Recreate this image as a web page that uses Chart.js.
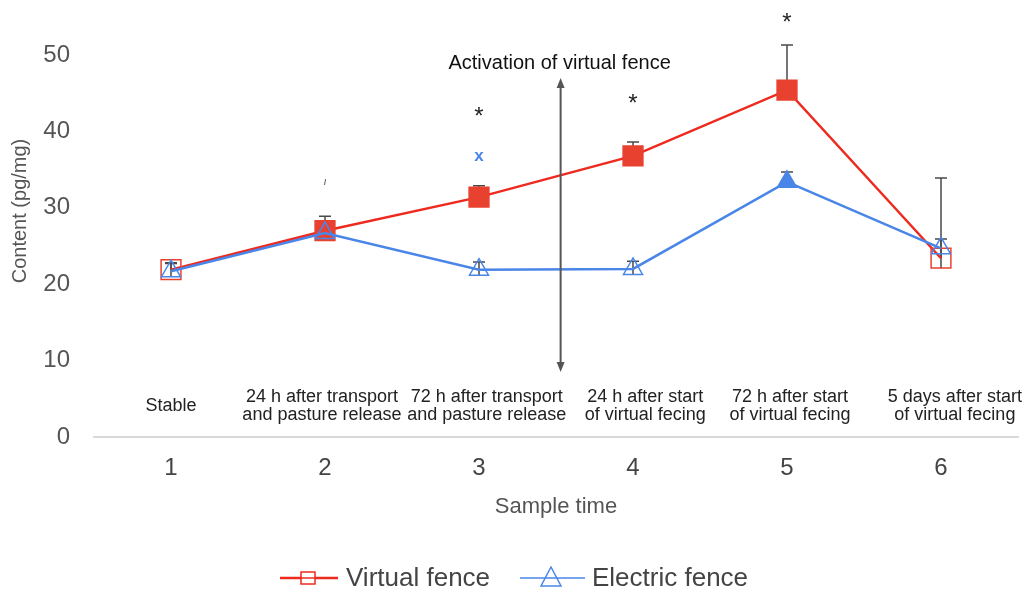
<!DOCTYPE html>
<html>
<head>
<meta charset="utf-8">
<script src="https://cdn.jsdelivr.net/npm/chart.js@4.4.0/dist/chart.umd.min.js"></script>
<style>
  html, body { margin: 0; padding: 0; background: #fff; }
  #wrap { width: 1024px; height: 594px; }
</style>
</head>
<body>
<div id="wrap"><canvas id="myChart"></canvas></div>
<script>
// sample times (x categories) and what each one means
const sampleTimes = ['1', '2', '3', '4', '5', '6'];
const sampleNames = [
    ['Stable'],
    ['24 h after transport', 'and pasture release'],
    ['72 h after transport', 'and pasture release'],
    ['24 h after start', 'of virtual fecing'],
    ['72 h after start', 'of virtual fecing'],
    ['5 days after start', 'of virtual fecing']
];
// where each description sits (index units, placed by hand in the original)
const namePlace = [0, 0.98, 2.05, 3.08, 4.02, 5.09];

// Virtual fence group
const virtualFence = [21.9, 27.0, 31.4, 36.8, 45.4, 23.4];
const virtualHigh = [22.8, 28.9, 32.9, 38.6, 51.3, 33.9];
const virtualLow = [21.9, 27.0, 31.4, 36.8, 45.4, 22.1];
const virtualFilled = [false, true, true, true, true, false];

// Electric fence group
const electricFence = [21.7, 26.7, 21.9, 22.0, 33.4, 24.7];
const electricHigh = [22.7, 27.8, 22.9, 23.0, 34.7, 25.9];
const electricLow = [21.0, 26.0, 21.2, 21.3, 33.4, 23.4];
const electricFilled = [false, false, false, false, true, false];

const yTicks = [0, 10, 20, 30, 40, 50];

// significance marks: [sample index, value, text, colour]
const marks = [
    [1, 33.4, '\u0131', '#555'],
    [2, 41.9, '*', '#222'],
    [2, 36.8, 'x', '#4a86e8'],
    [3, 43.6, '*', '#222'],
    [4, 54.1, '*', '#222']
];
const fenceStart = 2.53; // between sample 3 and 4 (index units)
const fenceArrow = [8.5, 47.0];
const fenceLabel = 'Activation of virtual fence';

const RED = '#ee2a1f';
const RED_FILL = '#e8412f';
const BLUE = '#4a86e8';
const BAR = '#4a4a4a';

function fills(flags, color) {
    return flags.map(f => f ? color : 'rgba(255,255,255,0)');
}

const extras = {
    id: 'extras',
    beforeDatasetsDraw(chart) {
        const ctx = chart.ctx, xs = chart.scales.x, ys = chart.scales.y;
        ctx.save();
        ctx.strokeStyle = BAR;
        ctx.lineWidth = 1.5;
        [[virtualLow, virtualHigh], [electricLow, electricHigh]].forEach(([lo, hi]) => {
            hi.forEach((h, i) => {
                const x = xs.getPixelForValue(i);
                const yh = ys.getPixelForValue(h), yl = ys.getPixelForValue(lo[i]);
                ctx.beginPath();
                ctx.moveTo(x, yl); ctx.lineTo(x, yh);
                ctx.moveTo(x - 6, yh); ctx.lineTo(x + 6, yh);
                ctx.stroke();
            });
        });
        ctx.restore();
    },
    afterDraw(chart) {
        const ctx = chart.ctx, xs = chart.scales.x, ys = chart.scales.y;
        const area = chart.chartArea;
        ctx.save();

        // significance marks
        ctx.textAlign = 'center';
        ctx.textBaseline = 'middle';
        marks.forEach(([i, v, t, c]) => {
            ctx.fillStyle = c;
            if (t === 'x') ctx.font = 'bold 17px "Liberation Sans"';
            else if (t === '*') ctx.font = '24px "Liberation Sans"';
            else ctx.font = 'italic 11px "Liberation Sans"';
            ctx.fillText(t, xs.getPixelForValue(i), ys.getPixelForValue(v));
        });

        // activation arrow
        const ax = xs.getPixelForValue(fenceStart);
        const y1 = ys.getPixelForValue(fenceArrow[0]), y2 = ys.getPixelForValue(fenceArrow[1]);
        ctx.strokeStyle = '#555';
        ctx.fillStyle = '#555';
        ctx.lineWidth = 2;
        ctx.beginPath();
        ctx.moveTo(ax, y1 - 4); ctx.lineTo(ax, y2 + 4);
        ctx.stroke();
        ctx.beginPath();
        ctx.moveTo(ax, y2); ctx.lineTo(ax - 4, y2 + 10); ctx.lineTo(ax + 4, y2 + 10); ctx.closePath();
        ctx.moveTo(ax, y1); ctx.lineTo(ax - 4, y1 - 10); ctx.lineTo(ax + 4, y1 - 10); ctx.closePath();
        ctx.fill();
        ctx.fillStyle = '#111';
        ctx.font = '20px "Liberation Sans"';
        ctx.fillText(fenceLabel, ax - 1, y2 - 14);

        // sample descriptions inside the plot
        ctx.fillStyle = '#222';
        ctx.font = '18px "Liberation Sans Narrow", "Liberation Sans"';
        const mid = ys.getPixelForValue(0) - 31;
        sampleNames.forEach((lines, i) => {
            const x = xs.getPixelForValue(namePlace[i]);
            const top = mid - (lines.length - 1) * 9;
            lines.forEach((l, k) => ctx.fillText(l, x, top + k * 18));
        });

        // axis titles
        ctx.fillStyle = '#555';
        ctx.font = '22px "Liberation Sans"';
        ctx.fillText('Sample time', (area.left + area.right) / 2, 507);
        ctx.save();
        ctx.translate(20, 211);
        ctx.rotate(-Math.PI / 2);
        ctx.font = '20px "Liberation Sans"';
        ctx.fillText('Content (pg/mg)', 0, 0);
        ctx.restore();

        // legend
        const ly = 578;
        ctx.font = '26px "Liberation Sans"';
        ctx.textAlign = 'left';
        let lx = 280;
        // virtual fence
        ctx.strokeStyle = RED; ctx.lineWidth = 2.5;
        ctx.beginPath(); ctx.moveTo(lx, ly); ctx.lineTo(lx + 58, ly); ctx.stroke();
        ctx.lineWidth = 1.5;
        ctx.fillStyle = '#fff';
        ctx.fillRect(lx + 21, ly - 6, 14, 12);
        ctx.strokeRect(lx + 21, ly - 6, 14, 12);
        ctx.beginPath(); ctx.moveTo(lx + 21, ly); ctx.lineTo(lx + 35, ly); ctx.stroke();
        ctx.fillStyle = '#444';
        ctx.fillText('Virtual fence', lx + 66, ly + 1);
        // electric fence
        lx = 520;
        ctx.strokeStyle = BLUE; ctx.lineWidth = 1.5;
        ctx.beginPath(); ctx.moveTo(lx, ly); ctx.lineTo(lx + 65, ly); ctx.stroke();
        ctx.beginPath();
        ctx.moveTo(lx + 31, ly - 11); ctx.lineTo(lx + 21, ly + 8); ctx.lineTo(lx + 41, ly + 8); ctx.closePath();
        ctx.stroke();
        ctx.fillStyle = '#444';
        ctx.fillText('Electric fence', lx + 72, ly + 1);

        ctx.restore();
    }
};

const ctx = document.getElementById('myChart').getContext('2d');
new Chart(ctx, {
    type: 'line',
    data: {
        labels: sampleTimes,
        datasets: [
            {
                label: 'Virtual fence',
                data: virtualFence,
                borderColor: RED,
                borderWidth: 2.5,
                pointStyle: 'rect',
                pointRadius: 14,
                pointBorderWidth: 1.5,
                pointBorderColor: RED_FILL,
                pointBackgroundColor: fills(virtualFilled, RED_FILL),
                tension: 0,
                order: 1
            },
            {
                label: 'Electric fence',
                data: electricFence,
                borderColor: BLUE,
                borderWidth: 2.5,
                pointStyle: 'triangle',
                pointRadius: 11,
                pointBorderWidth: 1.5,
                pointBorderColor: BLUE,
                pointBackgroundColor: fills(electricFilled, BLUE),
                tension: 0,
                order: 0
            }
        ]
    },
    options: {
        responsive: true,
        maintainAspectRatio: false,
        animation: false,
        layout: { autoPadding: false, padding: { top: 55, right: 6, left: 0, bottom: 0 } },
        plugins: { legend: { display: false }, tooltip: { enabled: false } },
        scales: {
            x: {
                offset: true,
                grid: { display: false, drawTicks: false },
                border: { display: true, color: '#d9d9d9', width: 2 },
                ticks: { color: '#444', font: { family: 'Liberation Sans', size: 24 }, padding: 17 },
                afterFit: s => { s.height = 157; s.paddingLeft = 0; s.paddingRight = 0; }
            },
            y: {
                min: 0,
                max: 50,
                afterBuildTicks: s => { s.ticks = yTicks.map(v => ({ value: v })); },
                grid: { display: false, drawTicks: false },
                border: { display: false },
                ticks: { color: '#555', font: { family: 'Liberation Sans', size: 24 }, padding: 24 },
                afterFit: s => { s.width = 94; }
            }
        }
    },
    plugins: [extras]
});
</script>
</body>
</html>
